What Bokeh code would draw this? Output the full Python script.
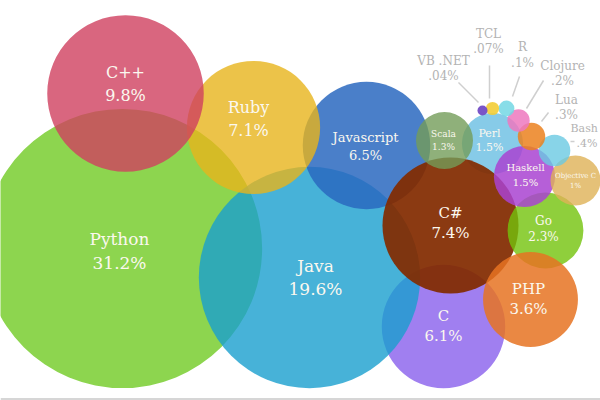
import math
from bokeh.plotting import figure
from bokeh.models import Range1d, ColumnDataSource, BoxAnnotation
from bokeh.embed import file_html
from bokeh.resources import INLINE
from bokeh.core.properties import value

# ---- data ----
languages = ["Python", "Java", "C++", "C#", "Ruby", "Javascript", "C", "PHP", "Go",
             "Perl", "Haskell", "Scala", "Objective C", "Bash", "Lua", "Clojure",
             "R", "TCL", "VB .NET"]
shares = [31.2, 19.6, 9.8, 7.4, 7.1, 6.5, 6.1, 3.6, 2.3,
          1.5, 1.5, 1.3, 1.0, 0.4, 0.3, 0.2, 0.1, 0.07, 0.04]

# ---- layout (bubble centres, pixels) ----
cx = [122, 309, 125, 450, 253, 366, 443, 530, 545, 492, 524, 444, 575, 554, 531, 518, 506, 492, 482]
cy = [248, 277, 93, 225, 127, 145, 326, 299, 230, 143, 176, 140, 180, 150, 136, 120, 108, 108, 110]
colors = ["#8dd54f", "#47b2d8", "#d9667f", "#8b3a12", "#ecc349", "#4a7fc9", "#a07ff0",
          "#ea8843", "#8fcf3c", "#87cbe8", "#b65fd8", "#8fb07a", "#e5c178", "#88d4e8",
          "#ee9440", "#f08cc8", "#88dde8", "#f4d24a", "#7a55c8"]
alphas = [0.8, 0.8, 0.8, 0.93, 0.8, 0.85, 0.8, 0.85, 0.8, 0.8, 0.85, 0.8, 0.8, 0.8, 0.85, 0.85, 0.85, 0.9, 0.95]
draw_order = ["C", "Python", "Java", "Javascript", "Ruby", "C++", "Perl", "C#", "Go", "PHP",
              "Scala", "Haskell", "Objective C", "Bash", "Lua", "Clojure", "R", "TCL", "VB .NET"]
SCALE = 25.0  # radius = SCALE * sqrt(share)

# inside labels: (x, y of name, y of share, font size)
inside = {
    "Python": (119, 238, 262, 17), "Java": (315, 265, 288, 17), "C++": (125, 72, 95, 16),
    "C#": (450, 212, 232, 15), "Ruby": (248, 107, 130, 16), "Javascript": (365, 137, 155, 13),
    "C": (443, 315, 335, 15), "PHP": (528, 288, 308, 15), "Go": (543, 220, 236, 12),
    "Perl": (489, 133, 147, 11), "Haskell": (525, 167, 182, 10), "Scala": (443, 133, 146, 9),
    "Objective C": (575, 175, 185, 7),
}
# outside labels: (x name, x share, y name, y share, align, font size, leader x0, y0, x1, y1)
outside = {
    "VB .NET": (443, 443, 60, 75, "center", 12, 458, 82, 478, 102),
    "TCL": (488, 488, 33, 48, "center", 12, 489, 65, 489, 98),
    "R": (522, 522, 46, 62, "center", 12, 519, 76, 512, 96),
    "Clojure": (562, 562, 65, 80, "center", 12, 543, 80, 526, 108),
    "Lua": (566, 566, 99, 114, "center", 12, 548, 112, 541, 121),
    "Bash": (570, 576, 128, 143, "left", 11, 570, 141, 574, 141),
}


def fmt(v):
    s = f"{v:g}%"
    return s[1:] if s.startswith("0.") else s


def base_color(hexcol, a):
    d = [int(hexcol[i:i + 2], 16) for i in (1, 3, 5)]
    c = [max(0, min(255, round((x - (1 - a) * 255) / a))) for x in d]
    return "#%02x%02x%02x" % tuple(c)


p = figure(width=600, height=400, output_backend="svg", toolbar_location=None,
           x_range=Range1d(0, 600), y_range=Range1d(400, 0), min_border=0)
p.axis.visible = False
p.grid.visible = False
p.outline_line_color = None
p.background_fill_color = "white"
p.border_fill_color = "white"

idx = [languages.index(n) for n in draw_order]
src = ColumnDataSource(dict(
    x=[cx[i] for i in idx], y=[cy[i] for i in idx],
    r=[SCALE * math.sqrt(shares[i]) for i in idx],
    c=[base_color(colors[i], alphas[i]) for i in idx],
    a=[alphas[i] for i in idx],
))
p.circle(x="x", y="y", radius="r", fill_color="c", fill_alpha="a", line_color=None, source=src)

font = value("DejaVu Serif")
for name, (x, y1, y2, fs) in inside.items():
    i = languages.index(name)
    p.text(x=[x, x], y=[y1, y2], text=[name, fmt(shares[i])], text_font=font,
           text_font_size=f"{fs}px", text_color="#fbf8ef", text_align="center",
           text_baseline="middle")

for name, (xa, xb, y1, y2, al, fs, x0, y0, x1, y1b) in outside.items():
    i = languages.index(name)
    p.segment(x0=[x0], y0=[y0], x1=[x1], y1=[y1b], line_color="#cfcfcf", line_width=1.5)
    p.text(x=[xa, xb], y=[y1, y2], text=[name, fmt(shares[i])], text_font=font,
           text_font_size=f"{fs}px", text_color="#b3b3b3", text_align=al,
           text_baseline="middle")

p.add_layout(BoxAnnotation(top=397.5, bottom=400, left=0, right=600,
                           fill_color="#d6d6d6", fill_alpha=1, line_color=None))

open("out.html", "w").write(file_html(p, INLINE))
